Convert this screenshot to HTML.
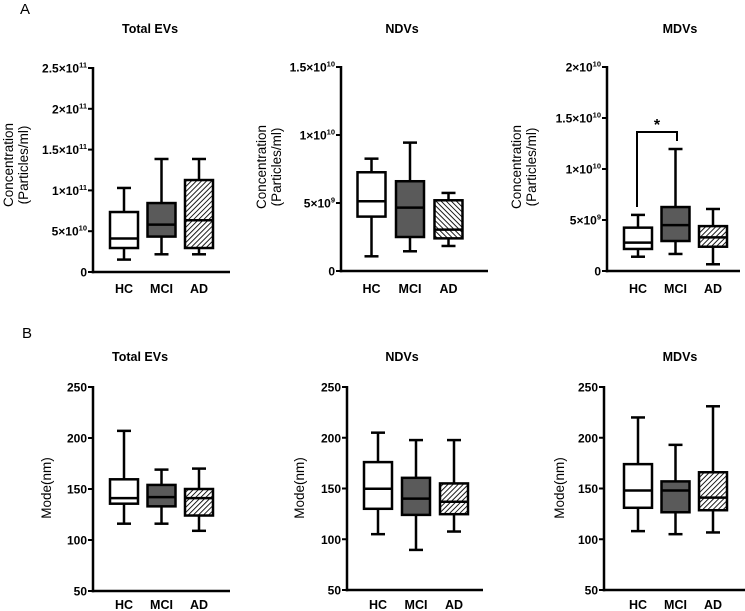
<!DOCTYPE html>
<html><head><meta charset="utf-8">
<style>
body{margin:0;background:#fff;}
svg{display:block;font-family:"Liberation Sans",Arial,sans-serif;}
.tick{font-size:12px;font-weight:bold;}
.title{font-size:12.5px;font-weight:bold;}
.ylab{font-size:13.5px;}
.xl{font-size:12.5px;font-weight:bold;}
</style></head>
<body>
<svg id="fig" width="745" height="611" viewBox="0 0 745 611">
<defs>
<pattern id="hatchF" width="3.6" height="3.6" patternUnits="userSpaceOnUse" patternTransform="rotate(45)">
<rect width="3.6" height="3.6" fill="#fff"/><line x1="0" y1="0" x2="0" y2="3.6" stroke="#111" stroke-width="1.9"/></pattern>
<pattern id="hatchB" width="3.6" height="3.6" patternUnits="userSpaceOnUse" patternTransform="rotate(-45)">
<rect width="3.6" height="3.6" fill="#fff"/><line x1="0" y1="0" x2="0" y2="3.6" stroke="#111" stroke-width="1.9"/></pattern>
</defs>
<text x="20" y="14" font-size="15">A</text>
<text x="22" y="338" font-size="15">B</text>
</svg>
<script>
const groups = ["HC","MCI","AD"];
// Top row: [min, Q1, median, Q3, max]
const totalConc = [[1.52e10,2.94e10,4.1e10,7.35e10,1.03e11],[2.17e10,4.34e10,5.8e10,8.45e10,1.385e11],[2.17e10,2.94e10,6.34e10,1.127e11,1.385e11]];
const ndvConc = [[1.08e9,4.0e9,5.13e9,7.26e9,8.26e9],[1.45e9,2.5e9,4.66e9,6.6e9,9.44e9],[1.84e9,2.4e9,3.04e9,5.2e9,5.74e9]];
const mdvConc = [[1.4e9,2.16e9,2.78e9,4.25e9,5.5e9],[1.67e9,2.94e9,4.5e9,6.27e9,1.196e10],[0.66e9,2.38e9,3.3e9,4.4e9,6.08e9]];
// Bottom row
const totalMode = [[116,135.6,141,159.5,207],[116,133,142,154,169],[109,124,141,150,170]];
const ndvMode = [[105,130,149.7,176,205],[89.5,124,140,160.5,197.7],[107.6,124.7,137,155,197.7]];
const mdvMode = [[108,131,148,174,220],[105,126.6,148,157,193],[106.7,128.6,141,166,231]];
const concTicksTotal = [0,5e10,1e11,1.5e11,2e11,2.5e11];
const concTicksTotalLbl = [["0",""],["5×10","10"],["1×10","11"],["1.5×10","11"],["2×10","11"],["2.5×10","11"]];
const concTicksNdv = [0,5e9,1e10,1.5e10];
const concTicksNdvLbl = [["0",""],["5×10","9"],["1×10","10"],["1.5×10","10"]];
const concTicksMdv = [0,5e9,1e10,1.5e10,2e10];
const concTicksMdvLbl = [["0",""],["5×10","9"],["1×10","10"],["1.5×10","10"],["2×10","10"]];
const modeTicks = [50,100,150,200,250];
const modeTicksLbl = [["50",""],["100",""],["150",""],["200",""],["250",""]];

const NS="http://www.w3.org/2000/svg";
const svg=document.getElementById('fig');
function mk(tag,attrs,parent){const e=document.createElementNS(NS,tag);for(const k in attrs)e.setAttribute(k,attrs[k]);(parent||svg).appendChild(e);return e;}

function panel(p){
  const g=mk('g',{});
  
  
  const y=v=>p.y0-(v-p.vmin)/(p.vmax-p.vmin)*(p.y0-p.y1);
  const t=mk('text',{x:p.tx,y:p.ty,'text-anchor':'middle',class:'title'},g);t.textContent=p.title;
  
  
  mk('line',{x1:p.ax,y1:p.y1-1,x2:p.ax,y2:p.y0+1.25,stroke:'#000','stroke-width':2.5},g);
  const xa=mk('line',{x1:p.ax-1.25,y1:p.y0,x2:p.xend,y2:p.y0,stroke:'#000','stroke-width':2.5},g);
  
  
  p.ticks.forEach((v,i)=>{
    const yy=y(v);
    mk('line',{x1:p.ax-5,y1:yy,x2:p.ax,y2:yy,stroke:'#000','stroke-width':2},g);
    const tx=mk('text',{x:p.ax-6,y:yy+4.5,'text-anchor':'end',class:'tick'},g);
    
    
    const lb=p.tickLbl[i];
    if(lb[1]){
      const s1=mk('tspan',{},tx);s1.textContent=lb[0];
      const s2=mk('tspan',{dy:-5,'font-size':7.5},tx);s2.textContent=lb[1];
    } else tx.textContent=lb[0];
  });
  const yl=mk('text',{transform:`translate(${p.lx},${p.ly}) rotate(-90)`,'text-anchor':'middle',class:'ylab'},g);
  
  
  p.ylab.forEach((s,i)=>{const ts=mk('tspan',{x:0,dy:i?15:0},yl);ts.textContent=s;});
  const fills=['#fff','#5a5a5a',p.hatch];
  p.data.forEach((d,i)=>{
    const cx=p.c0+i*p.dx, w=28;
    const bg=mk('g',{},g);
    
    
    mk('line',{x1:cx,y1:y(d[0]),x2:cx,y2:y(d[4]),stroke:'#000','stroke-width':2.5},bg);
    mk('line',{x1:cx-7,y1:y(d[0]),x2:cx+7,y2:y(d[0]),stroke:'#000','stroke-width':2.5},bg);
    mk('line',{x1:cx-7,y1:y(d[4]),x2:cx+7,y2:y(d[4]),stroke:'#000','stroke-width':2.5},bg);
    mk('rect',{x:cx-w/2,y:y(d[3]),width:w,height:y(d[1])-y(d[3]),fill:fills[i],stroke:'#000','stroke-width':2.5},bg);
    mk('line',{x1:cx-w/2,y1:y(d[2]),x2:cx+w/2,y2:y(d[2]),stroke:'#000','stroke-width':2.5},bg);
    const xl=mk('text',{x:cx,y:p.xly,'text-anchor':'middle',class:'xl'},g);
    xl.textContent=groups[i];
    
    
  });
  return y;
}
const conc=["Concentration","(Particles/ml)"];
panel({name:'total-evs-concentration',title:'Total EVs',tx:150,ty:33,ax:93,y0:272,y1:68,vmin:0,vmax:2.5e11,xend:230,ticks:concTicksTotal,tickLbl:concTicksTotalLbl,ylab:conc,lx:13,ly:165,data:totalConc,c0:124,dx:37.5,hatch:'url(#hatchF)',xly:293});
panel({name:'ndvs-concentration',title:'NDVs',tx:402,ty:33,ax:341,y0:271,y1:67,vmin:0,vmax:1.5e10,xend:488,ticks:concTicksNdv,tickLbl:concTicksNdvLbl,ylab:conc,lx:266,ly:167,data:ndvConc,c0:371.5,dx:38.5,hatch:'url(#hatchB)',xly:293});
const ym=panel({name:'mdvs-concentration',title:'MDVs',tx:680,ty:33,ax:607,y0:271,y1:67,vmin:0,vmax:2e10,xend:740,ticks:concTicksMdv,tickLbl:concTicksMdvLbl,ylab:conc,lx:521,ly:167,data:mdvConc,c0:638,dx:37.5,hatch:'url(#hatchF)',xly:293});
const br=mk('polyline',{points:'637,207 637,132 677,132 677,141',fill:'none',stroke:'#000','stroke-width':2});


const st=mk('text',{x:657,y:130,'text-anchor':'middle','font-size':16,'font-weight':'bold'});st.textContent='*';


panel({name:'total-evs-mode',title:'Total EVs',tx:140,ty:361,ax:93,y0:591,y1:387,vmin:50,vmax:250,xend:230,ticks:modeTicks,tickLbl:modeTicksLbl,ylab:['Mode(nm)'],lx:51,ly:488,data:totalMode,c0:124,dx:37.5,hatch:'url(#hatchF)',xly:609});
panel({name:'ndvs-mode',title:'NDVs',tx:402,ty:361,ax:347,y0:590,y1:387,vmin:50,vmax:250,xend:483,ticks:modeTicks,tickLbl:modeTicksLbl,ylab:['Mode(nm)'],lx:304,ly:488,data:ndvMode,c0:378,dx:38,hatch:'url(#hatchF)',xly:609});
panel({name:'mdvs-mode',title:'MDVs',tx:680,ty:361,ax:604,y0:590,y1:387,vmin:50,vmax:250,xend:745,ticks:modeTicks,tickLbl:modeTicksLbl,ylab:['Mode(nm)'],lx:564,ly:488,data:mdvMode,c0:638,dx:37.5,hatch:'url(#hatchF)',xly:609});
</script>
</body></html>
